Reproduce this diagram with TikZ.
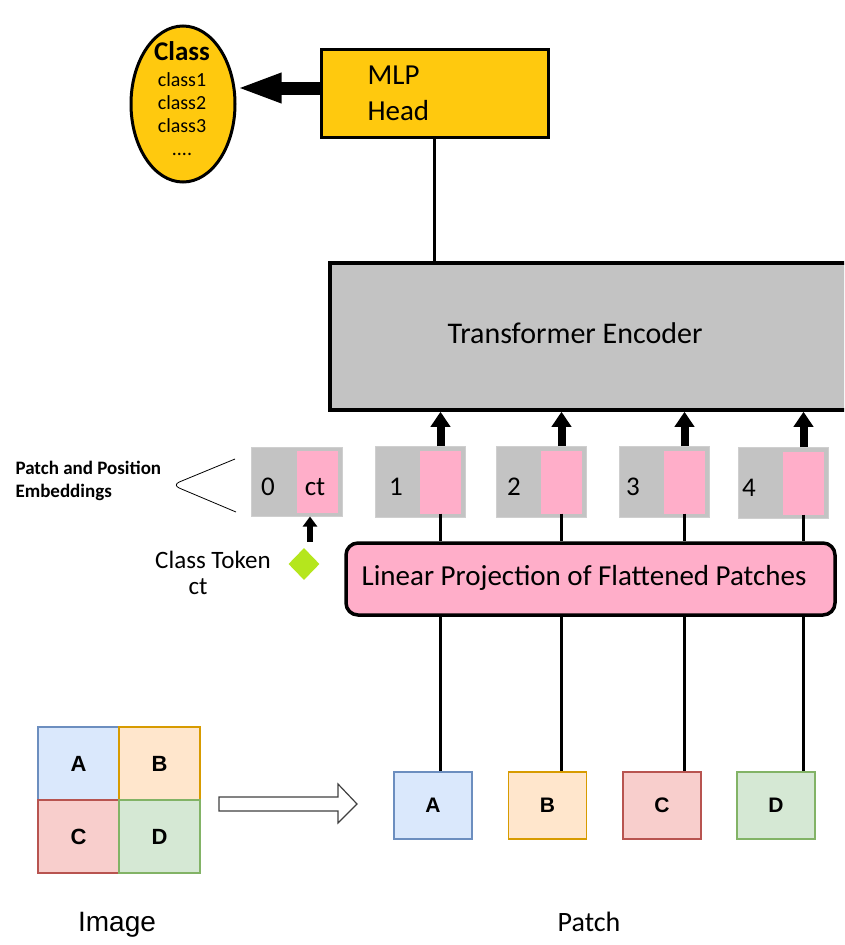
\documentclass[tikz,border=0pt]{standalone}
\usepackage{fontspec}
\setmainfont{Carlito}
\newfontfamily\arialfont{Liberation Sans}
\usetikzlibrary{arrows.meta,shapes.geometric}
\tikzset{
  block/.style={
    draw=black,
    line width=3.5pt,
    inner sep=0pt
  },
  emb-gray/.style={fill=embgray, draw=embgray!80!white, line width=1pt, minimum width=90pt, minimum height=71pt, inner sep=0pt},
  emb-pink/.style={fill=rose, minimum width=41pt, minimum height=63pt, inner sep=0pt},
  emb-num/.style={font=\fontsize{27}{30}\selectfont},
  link/.style={line width=3.5pt},
  up-arrow/.style={line width=8pt, -{Triangle[length=15pt,width=19pt]}},
  token-arrow/.style={line width=6pt, -{Triangle[length=10pt,width=14pt]}},
  class-arrow/.style={line width=13pt, -{Triangle[length=45pt,width=27pt]}},
  patch/.style={minimum width=78pt, minimum height=67pt, inner sep=0pt, line width=1.2pt, font=\arialfont\bfseries\fontsize{21}{24}\selectfont},
  cell/.style={patch, minimum width=81pt, minimum height=73pt, font=\arialfont\bfseries\fontsize{22}{26}\selectfont},
  patch-a/.style={fill=cellblue, draw=cellblueline},
  patch-b/.style={fill=cellorange, draw=cellorangeline},
  patch-c/.style={fill=cellred, draw=cellredline},
  patch-d/.style={fill=cellgreen, draw=cellgreenline}
}
\definecolor{gold}{RGB}{255,201,14}
\definecolor{rose}{RGB}{255,174,201}
\definecolor{embgray}{RGB}{195,195,195}
\definecolor{lime}{RGB}{181,230,29}
\definecolor{cellblue}{HTML}{DAE8FC}
\definecolor{cellblueline}{HTML}{6C8EBF}
\definecolor{cellorange}{HTML}{FFE6CC}
\definecolor{cellorangeline}{HTML}{D79B00}
\definecolor{cellred}{HTML}{F8CECC}
\definecolor{cellredline}{HTML}{B85450}
\definecolor{cellgreen}{HTML}{D5E8D4}
\definecolor{cellgreenline}{HTML}{82B366}

\begin{document}
\begin{tikzpicture}[x=1pt, y=-1pt]
  \useasboundingbox (0,0) rectangle (844,945);
  \clip (0,0) rectangle (844,945);

  % Class output and MLP head
  \node[ellipse, draw=black, fill=gold, line width=3pt, minimum width=104pt, minimum height=156pt, inner sep=0pt] (cls) at (183,104) {};
  \node[align=center, font=\fontsize{20}{23}\selectfont] (cls-text) at (182,99)
    {{\bfseries\fontsize{27}{30}\selectfont Class}\\[3pt] class1\\ class2\\ class3\\ ....};
  \node[block, line width=3pt, fill=gold, minimum width=227pt, minimum height=88pt] (mlp) at (434.5,93) {};
  \node[anchor=west, align=left, font=\fontsize{29}{36}\selectfont] (mlp-text) at (364,93) {MLP\\Head};
  \draw[class-arrow] ([yshift=5pt]mlp.west) -- ([yshift=5pt]cls.east |- mlp.west);

  % Transformer encoder
  \node[block, fill=embgray, minimum width=520pt, minimum height=147pt] (enc) at (590,336.5) {};
  \node[font=\fontsize{30}{34}\selectfont] (enc-text) at (575,333) {Transformer Encoder};
  \draw[link, line width=3pt] (mlp.south) -- (mlp.south |- enc.north);

  % Patch and position embeddings
  \node[emb-gray, minimum width=91pt, minimum height=69pt] (e0) at (296.5,481.5) {};
  \node[emb-pink, minimum height=62pt] (p0) at (317.5,482) {};
  \node[emb-num] (n0) at (268,487) {0};
  \node[emb-num] (ct0) at (315,487) {ct};

  \node[emb-gray] (e1) at (420,482) {};
  \node[emb-pink] (p1) at (440.5,482) {};
  \node[emb-num] (n1) at (396,487) {1};

  \node[emb-gray] (e2) at (541,482) {};
  \node[emb-pink] (p2) at (561.5,482) {};
  \node[emb-num] (n2) at (514,487) {2};

  \node[emb-gray] (e3) at (664,482) {};
  \node[emb-pink] (p3) at (684.5,482) {};
  \node[emb-num] (n3) at (633,487) {3};

  \node[emb-gray] (e4) at (783,483) {};
  \node[emb-pink] (p4) at (803.5,483) {};
  \node[emb-num] (n4) at (749,488) {4};

  \draw[up-arrow] (p1.north |- e1.north) -- (p1.north |- enc.south);
  \draw[up-arrow] (p2.north |- e2.north) -- (p2.north |- enc.south);
  \draw[up-arrow] (p3.north |- e3.north) -- (p3.north |- enc.south);
  \draw[up-arrow] (p4.north |- e4.north) -- (p4.north |- enc.south);

  \node[anchor=west, align=left, font=\bfseries\fontsize{19}{23}\selectfont] (emb-text) at (12,481) {Patch and Position\\Embeddings};
  \draw[line width=0.8pt, rounded corners=8pt] (235,459) -- (172,485) -- (236,512);

  % Class token
  \node[diamond, fill=lime, minimum width=31pt, minimum height=32pt, inner sep=0pt] (tok) at (304,564) {};
  \draw[token-arrow] ([xshift=6pt,yshift=6pt]tok.north) -- ([xshift=6pt]tok.north |- e0.south);
  \node[font=\fontsize{25}{30}\selectfont] (tok-text) at (213,560) {Class Token};
  \node[font=\fontsize{25}{30}\selectfont] (tok-ct) at (198,587) {ct};

  % Linear projection
  \node[block, rounded corners=12pt, fill=rose, minimum width=489pt, minimum height=72pt, font=\fontsize{29}{34}\selectfont] (lp) at (590.5,579) {};
  \node[font=\fontsize{29}{34}\selectfont] (lp-text) at (584,578) {Linear Projection of Flattened Patches};
  \draw[link] (p1.south) -- (p1.south |- lp.north);
  \draw[link] (p2.south) -- (p2.south |- lp.north);
  \draw[link] (p3.south) -- (p3.south |- lp.north);
  \draw[link] (p4.south) -- (p4.south |- lp.north);

  % Patches
  \node[patch, patch-a] (pa) at (433,805.5) {A};
  \node[patch, patch-b] (pb) at (547.5,805.5) {B};
  \node[patch, patch-c] (pc) at (662,805.5) {C};
  \node[patch, patch-d] (pd) at (776,805.5) {D};
  \node[font=\fontsize{28}{32}\selectfont] (patch-text) at (589,922) {Patch};

  \draw[link] (lp.south -| p1.south) -- (pa.north -| p1.south);
  \draw[link] (lp.south -| p2.south) -- (pb.north -| p2.south);
  \draw[link] (lp.south -| p3.south) -- (pc.north -| p3.south);
  \draw[link] (lp.south -| p4.south) -- (pd.north -| p4.south);

  % Image split into patches
  \node[cell, patch-a] (ga) at (78.5,763.5) {A};
  \node[cell, patch-b] (gb) at (159.5,763.5) {B};
  \node[cell, patch-c] (gc) at (78.5,836.5) {C};
  \node[cell, patch-d] (gd) at (159.5,836.5) {D};
  \node[font=\arialfont\fontsize{28}{32}\selectfont] (image-text) at (117,925) {Image};

  \draw[line width=1.2pt, draw=black!75, fill=white]
    (219,797) -- (338,797) -- (338,784) -- (357,804) -- (338,823) -- (338,811) -- (219,811) -- cycle;
\end{tikzpicture}
\end{document}
